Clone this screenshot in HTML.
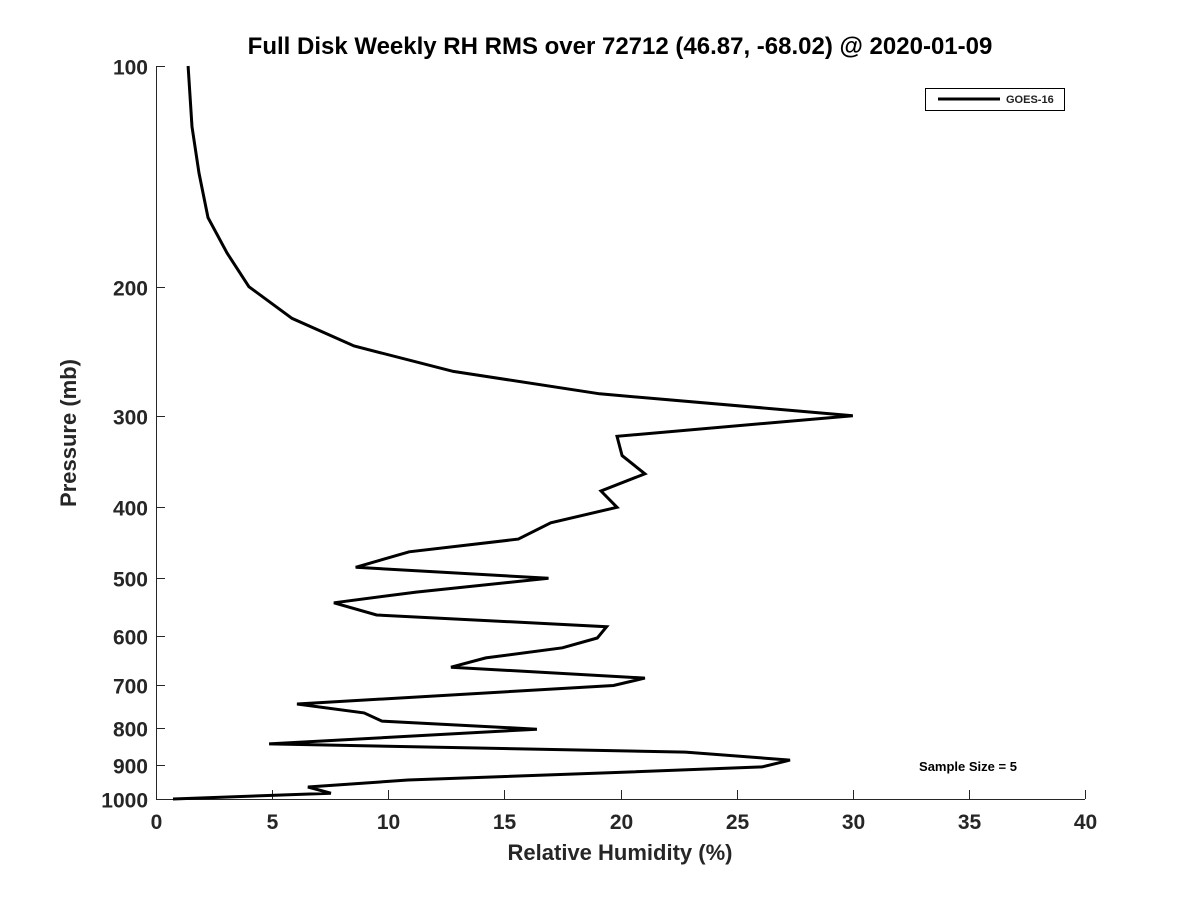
<!DOCTYPE html>
<html><head><meta charset="utf-8"><style>
body{margin:0;background:#fff;}
svg{display:block;font-family:"Liberation Sans","DejaVu Sans",sans-serif;}
</style></head><body>
<svg id="chart" width="1200" height="900" viewBox="0 0 1200 900">
<text x="620" y="54" text-anchor="middle" font-size="24" font-weight="bold" fill="#000">Full Disk Weekly RH RMS over 72712 (46.87, -68.02) @ 2020-01-09</text>
<g id="axes"></g>
<path id="line" fill="none" stroke="#000" stroke-width="3" stroke-linejoin="miter"></path>
<g>
<rect x="925.5" y="88.5" width="139" height="22" fill="#fff" stroke="#000" stroke-width="1"></rect>
<line x1="938" y1="99" x2="1000" y2="99" stroke="#000" stroke-width="3"></line>
<text x="1006" y="103" font-size="11" font-weight="bold" fill="#222">GOES-16</text>
</g>
<text x="968" y="771" text-anchor="middle" font-size="13" font-weight="bold" fill="#000">Sample Size = 5</text>
<text x="620" y="860" text-anchor="middle" font-size="22" font-weight="bold" fill="#262626">Relative Humidity (%)</text>
<text transform="translate(76,433) rotate(-90)" text-anchor="middle" font-size="22" font-weight="bold" fill="#262626">Pressure (mb)</text>
</svg>
<script>
const rhValues=[1.38,1.55,1.85,2.24,3.06,4.0,5.86,8.53,12.8,19.1,30,19.85,20.07,21.05,19.16,19.85,17.0,15.6,10.9,8.6,16.9,11.2,7.66,9.5,19.4,19.0,17.5,14.2,12.7,21.05,19.7,6.07,8.96,9.73,16.4,4.87,22.8,27.3,26.1,19.5,10.85,6.54,7.53,0.73];
const pressures=[100,121,140,161,180,200,221,241,261,280,300,320,340,360,380,400,420,442,460,483,500,522,540,561,582,603,622,642,661,684,700,742,763,783,803,841,863,885,904,921,942,963,982,1000];
const xTicks=[0,5,10,15,20,25,30,35,40];
const yTicks=[100,200,300,400,500,600,700,800,900,1000];
const X0=156,X1=1085,Y0=66,Y1=799;
const xs=v=>X0+(v-0)/(40-0)*(X1-X0);
const ys=p=>Y0+Math.log10(p/100)/Math.log10(10)*(Y1-Y0);
const NS="http://www.w3.org/2000/svg";
const axes=document.getElementById('axes');
function mk(tag,attrs,parent){const e=document.createElementNS(NS,tag);for(const k in attrs)e.setAttribute(k,attrs[k]);parent.appendChild(e);return e;}
const xa=mk('line',{x1:X0,y1:Y1+0.5,x2:X1,y2:Y1+0.5,stroke:'#262626','stroke-width':1},axes);


const ya=mk('line',{x1:X0+0.5,y1:Y0,x2:X0+0.5,y2:Y1,stroke:'#262626','stroke-width':1},axes);


xTicks.forEach(t=>{const x=Math.round(xs(t))+0.5;
 const l=mk('line',{x1:x,y1:Y1,x2:x,y2:Y1-9,stroke:'#262626','stroke-width':1},axes);
 
 
 const tx=mk('text',{x:x,y:Y1+30,'text-anchor':'middle','font-size':21,'font-weight':'bold',fill:'#262626'},axes);
 tx.textContent=t;
 
 
});
yTicks.forEach(t=>{const y=Math.round(ys(t))+0.5;
 const l=mk('line',{x1:X0,y1:y,x2:X0+9,y2:y,stroke:'#262626','stroke-width':1},axes);
 
 
 const tx=mk('text',{x:X0-8,y:y+8,'text-anchor':'end','font-size':21,'font-weight':'bold',fill:'#262626'},axes);
 tx.textContent=t;
 
 
});
document.getElementById('line').setAttribute('d',rhValues.map((v,i)=>(i?'L':'M')+xs(v).toFixed(1)+','+ys(pressures[i]).toFixed(1)).join(' '));
</script>
</body></html>
